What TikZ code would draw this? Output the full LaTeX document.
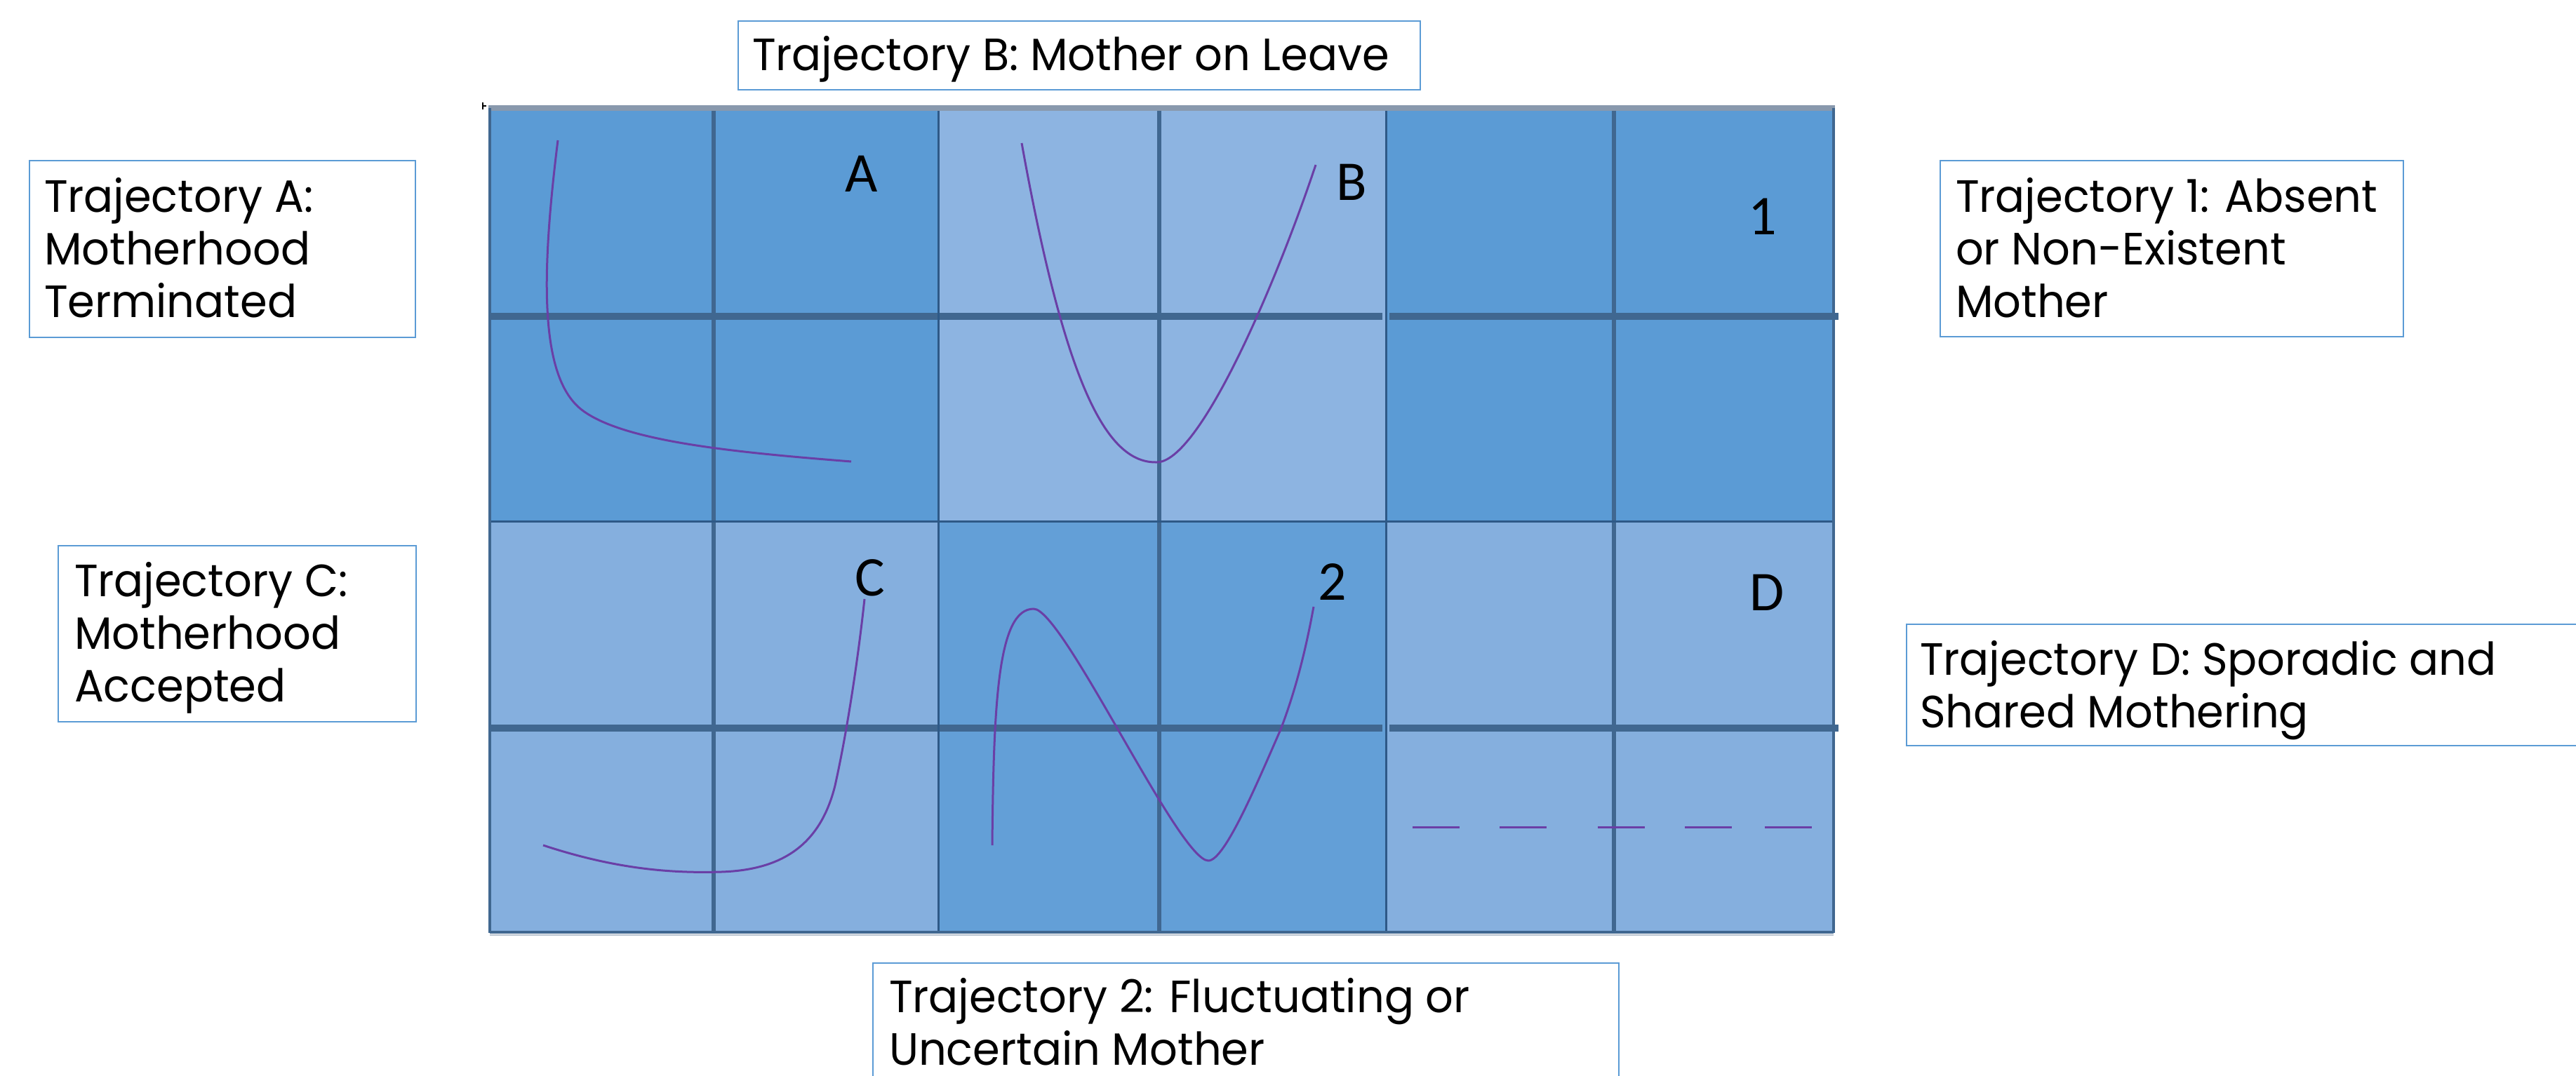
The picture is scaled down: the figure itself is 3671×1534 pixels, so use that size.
\documentclass[tikz,border=0pt]{standalone}
\usepackage{fontspec}
\setmainfont[FakeStretch=0.965]{Poppins}
\newfontfamily\calib{Carlito}
\definecolor{cdark}{HTML}{5B9BD5}
\definecolor{clight}{HTML}{8DB4E1}
\definecolor{clow}{HTML}{85AFDE}
\definecolor{cmid}{HTML}{639FD7}
\definecolor{gline}{HTML}{406790}
\definecolor{cline}{HTML}{2E5987}
\definecolor{topgrey}{HTML}{8999AD}
\definecolor{boxblue}{HTML}{5B9BD5}
\definecolor{curve}{HTML}{6A3FA6}
\tikzset{
  txt/.style={anchor=base west, inner sep=0pt, font=\fontsize{12.9}{15}\selectfont},
  lbl/.style={inner sep=0pt, font=\calib\fontsize{16}{16}\selectfont},
  tbox/.style={draw=boxblue, line width=0.45pt},
  subv/.style={draw=gline, line width=1.1pt},
  subh/.style={draw=gline, line width=2pt},
  cellb/.style={draw=cline, line width=0.6pt},
  traj/.style={draw=curve, line width=0.6pt}
}
\begin{document}
\begin{tikzpicture}[x=0.2pt,y=-0.2pt]
\useasboundingbox (0,0) rectangle (3671,1534);
\clip (0,0) rectangle (3671,1534);
\fill[white] (0,0) rectangle (3671,1534);
% cells
\fill[cdark] (698,154) rectangle (1337,743);
\fill[clight] (1337,154) rectangle (1975,743);
\fill[cdark] (1975,154) rectangle (2613,743);
\fill[clow] (698,743) rectangle (1337,1330);
\fill[cmid] (1337,743) rectangle (1975,1330);
\fill[clow] (1975,743) rectangle (2613,1330);
% sub lines
\foreach \x in {1017,1652,2300} \draw[subv] (\x,154) -- (\x,1330);
\foreach \y in {451,1038} {
  \draw[subh] (696,\y) -- (1970,\y);
  \draw[subh] (1980,\y) -- (2620,\y);
}
% cell borders
\draw[cellb] (698,743) -- (2613,743);
\draw[cellb] (1337,154) -- (1337,1330);
\draw[cellb] (1975,154) -- (1975,1330);
\draw[draw=topgrey, line width=1.6pt] (696,154) -- (2615,154);
\draw[draw=gline, line width=0.8pt] (698,154) -- (698,1330);
\draw[draw=gline, line width=0.8pt] (2613,154) -- (2613,1330);
\draw[draw=gline, line width=0.7pt] (698,1329) -- (2613,1329);
\draw[draw=topgrey!60, line width=0.4pt] (698,1333) -- (2613,1333);
% tiny mark
\draw[black, line width=0.4pt] (688,146) -- (688,156) (688,151) -- (693,151);
% curves
\draw[traj] (795,200) .. controls (770,400) and (770,540) .. (830,585)
  .. controls (890,630) and (1050,645) .. (1213,658);
\draw[traj] (1456,204) .. controls (1520,560) and (1580,660) .. (1648,659)
  .. controls (1710,660) and (1820,400) .. (1875,235);
\draw[traj] (774,1205) .. controls (880,1240) and (960,1245) .. (1028,1243)
  .. controls (1120,1240) and (1170,1200) .. (1190,1120)
  .. controls (1210,1030) and (1225,920) .. (1232,854);
\draw[traj] (1414,1205) .. controls (1416,1000) and (1422,868) .. (1473,868)
  .. controls (1515,868) and (1680,1227) .. (1722,1227)
  .. controls (1745,1227) and (1790,1120) .. (1825,1040)
  .. controls (1848,980) and (1862,920) .. (1872,865);
\draw[traj] (2013,1179) -- (2080,1179) (2137,1179) -- (2204,1179)
  (2277,1179) -- (2344,1179) (2401,1179) -- (2468,1179) (2515,1179) -- (2582,1179);
% grid labels
\node[lbl] (lA) at (1228,248) {A};
\node[lbl] (lB) at (1926,260) {B};
\node[lbl] (l1) at (2512,309) {1};
\node[lbl] (lC) at (1240,824) {C};
\node[lbl] (l2) at (1899,830) {2};
\node[lbl] (lD) at (2518,845) {D};
% text boxes
\draw[tbox] (42,229) rectangle (592,481);
\node[txt] (tA) at (62,302) {\parbox[t]{200pt}{Trajectory A:\\Motherhood\\Terminated}};
\draw[tbox] (1052,30) rectangle (2024,128);
\node[txt] (tB) at (1071,100) {Trajectory B: Mother on Leave};
\draw[tbox] (2765,229) rectangle (3425,480);
\node[txt] (t1) at (2786,302) {\parbox[t]{200pt}{Trajectory 1: Absent\\or Non-Existent\\Mother}};
\draw[tbox] (83,778) rectangle (593,1029);
\node[txt] (tC) at (105,850) {\parbox[t]{200pt}{Trajectory C:\\Motherhood\\Accepted}};
\draw[tbox] (2717,890) rectangle (3700,1063);
\node[txt] (tD) at (2735,962) {\parbox[t]{200pt}{Trajectory D: Sporadic and\\Shared Mothering}};
\draw[tbox] (1244,1373) rectangle (2307,1570);
\node[txt] (t2) at (1266,1443) {\parbox[t]{200pt}{Trajectory 2: Fluctuating or\\Uncertain Mother}};
\end{tikzpicture}
\end{document}
